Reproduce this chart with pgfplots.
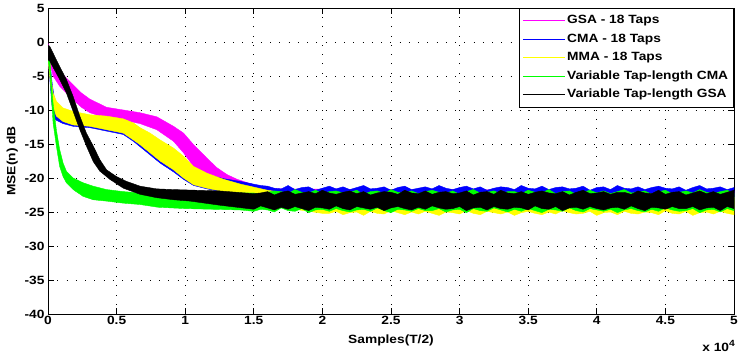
\documentclass[border=0pt]{standalone}
\usepackage{pgfplots}
\pgfplotsset{compat=1.18}
\usepackage{fontspec}
\setmainfont[FakeStretch=1.15]{Liberation Sans}
\definecolor{mmag}{RGB}{255,0,255}
\definecolor{mblue}{RGB}{0,0,255}
\definecolor{myel}{RGB}{255,255,0}
\definecolor{mgreen}{RGB}{0,255,0}
\newcommand\mfont{\fontsize{12}{14}\selectfont\bfseries}
\begin{document}
\begin{tikzpicture}
\useasboundingbox (0,0) rectangle (741bp,356bp);
\begin{axis}[
  at={(48bp,42bp)}, anchor=south west,
  scale only axis, width=686bp, height=306bp,
  clip mode=individual,
  xmin=0, xmax=50000, ymin=-40, ymax=5,
  scaled x ticks=false, scaled y ticks=false,
  xtick={0,5000,...,50000},
  xticklabels={0,0.5,1,1.5,2,2.5,3,3.5,4,4.5,5},
  ytick={-40,-35,...,5},
  yticklabels={-40,-35,-30,-25,-20,-15,-10,-5,0,5},
  tick align=inside, tick pos=both,
  major tick length=6bp,
  tick style={black, line width=0.75bp},
  axis line style={black, line width=0.75bp},
  grid=major,
  major grid style={black, line width=0.75bp, dash pattern=on 0.75bp off 8.5bp},
  ticklabel style={font=\mfont},
  xticklabel style={yshift=1bp},
  xlabel={Samples(T/2)}, ylabel={MSE(n) dB},
  label style={font=\mfont},
  xlabel style={yshift=-3bp},
  ylabel style={yshift=0bp},
  legend style={at={(1,1)}, anchor=north east, draw=black, line width=0.75bp, fill=white,
    font=\mfont, inner xsep=3.5bp, inner ysep=3bp, row sep=0bp,
    nodes={text height=9.5bp, text depth=3bp, inner ysep=3bp}},
  legend cell align=left,
  legend image code/.code={\draw[#1] (0bp,0bp) -- (42bp,0bp);},
]
% GSA - 18 taps (magenta)
\addplot[fill=mmag, draw=mmag, line width=0.4pt, forget plot] coordinates {
(0,-0.2)(200,-1.8)(370,-2.8)(850,-4.3)(1340,-5.3)(1830,-6.3)(2440,-7.5)(3050,-8.4)(4270,-9.6)(5490,-10.0)(6710,-10.4)(7930,-11.0)(9150,-12.4)(9880,-13.4)(10610,-15.1)(11590,-17.1)(12320,-18.5)(13050,-19.5)(13790,-20.2)(15000,-21.0)(16000,-21.6)(50000,-21.9)
(50000,-24.6)(16000,-23.9)(15000,-22.3)(13790,-21.3)(13050,-20.8)(12320,-20.3)(11590,-19.8)(10610,-18.3)(9880,-16.3)(9150,-14.6)(7930,-12.9)(6710,-12.0)(5490,-11.5)(4270,-11.2)(3050,-10.4)(2440,-9.6)(1830,-8.5)(1340,-7.5)(850,-6.5)(370,-5.0)(0,-2.0)
} -- cycle;
% CMA - 18 taps (blue)
\addplot[fill=mblue, draw=mblue, line width=0.4pt, forget plot] coordinates {
(0,-0.5)(150,-3)(300,-6)(500,-8.8)(800,-10.0)(1830,-10.5)(3050,-10.8)(4270,-11.0)(5490,-11.4)(6220,-12.0)(6710,-12.7)(7440,-13.6)(8170,-14.6)(9150,-15.8)(9880,-17.0)(10610,-18.5)(11590,-19.5)(12810,-20.1)(14030,-20.5)(15000,-20.9)(15500,-21.1)
(16000,-21.2)(16500,-21.5)(17000,-21.6)(17500,-21.1)(18000,-21.7)(18500,-21.4)(19000,-21.3)(19500,-21.8)(20000,-21.5)(20500,-21.2)(21000,-21.6)(21500,-21.3)(22000,-21.7)(22500,-21.4)(23000,-21.1)(23500,-21.6)(24000,-21.5)(24500,-21.3)(25000,-21.8)(25500,-21.4)(26000,-21.2)(26500,-21.7)(27000,-21.5)(27500,-21.3)(28000,-21.6)(28500,-21.1)(29000,-21.5)(29500,-21.7)(30000,-21.4)(30500,-21.2)(31000,-21.6)(31500,-21.3)(32000,-21.8)(32500,-21.5)(33000,-21.3)(33500,-21.4)(34000,-21.7)(34500,-21.1)(35000,-21.5)(35500,-21.6)(36000,-21.2)(36500,-21.7)(37000,-21.4)(37500,-21.3)(38000,-21.6)(38500,-21.5)(39000,-21.2)(39500,-21.8)(40000,-21.4)(40500,-21.3)(41000,-21.7)(41500,-21.1)(42000,-21.5)(42500,-21.6)(43000,-21.3)(43500,-21.7)(44000,-21.4)(44500,-21.2)(45000,-21.5)(45500,-21.6)(46000,-21.3)(46500,-21.8)(47000,-21.4)(47500,-21.1)(48000,-21.6)(48500,-21.5)(49000,-21.3)(49500,-21.7)(50000,-21.4)
(50000,-22.9)(16000,-22.7)(14030,-22.5)(12810,-22.1)(11590,-21.6)(10610,-21.1)(9880,-20.2)(9150,-19.1)(8170,-17.8)(7440,-16.6)(6710,-15.4)(6220,-14.6)(5490,-13.6)(4270,-13.1)(3050,-12.6)(1830,-12.4)(1100,-12.0)(500,-11.4)(300,-9.5)(150,-6)(0,-2)
} -- cycle;
% MMA - 18 taps (yellow)
\addplot[fill=myel, draw=myel, line width=0.4pt, forget plot] coordinates {
(0,-1.2)(120,-2.1)(240,-5.5)(370,-7.5)(610,-8.7)(1100,-9.7)(1830,-10.2)(3050,-10.7)(4270,-10.9)(5490,-11.3)(6220,-11.9)(6710,-12.6)(7440,-13.4)(8170,-14.4)(9150,-15.6)(9880,-16.8)(10610,-18.3)(11590,-19.3)(12810,-20.2)(14030,-20.9)(16000,-21.8)(18000,-22.4)(20000,-22.7)(50000,-22.8)
(50000,-25.4)(49500,-25.2)(49000,-24.9)(48500,-25.3)(48000,-25.0)(47500,-25.1)(47000,-25.5)(46500,-24.9)(46000,-25.3)(45500,-25.2)(45000,-24.8)(44500,-25.4)(44000,-25.1)(43500,-25.0)(43000,-25.3)(42500,-25.2)(42000,-24.9)(41500,-25.4)(41000,-25.0)(40500,-25.1)(40000,-25.5)(39500,-24.9)(39000,-25.2)(38500,-25.3)(38000,-25.1)(37500,-24.8)(37000,-25.3)(36500,-25.0)(36000,-25.4)(35500,-25.2)(35000,-24.9)(34500,-25.1)(34000,-25.5)(33500,-25.0)(33000,-25.3)(32500,-25.1)(32000,-24.9)(31500,-25.4)(31000,-25.2)(30500,-24.8)(30000,-25.3)(29500,-25.1)(29000,-25.0)(28500,-25.5)(28000,-25.2)(27500,-24.9)(27000,-25.3)(26500,-25.0)(26000,-25.4)(25500,-25.1)(25000,-24.8)(24500,-25.3)(24000,-25.2)(23500,-24.9)(23000,-25.5)(22500,-25.0)(22000,-25.1)(21500,-25.4)(21000,-24.9)(20500,-25.2)(20000,-25.2)
(18000,-24.6)(16000,-23.6)(14030,-22.6)(12810,-22.0)(11590,-21.5)(10610,-21.0)(9880,-20.0)(9150,-18.8)(8170,-17.5)(7440,-16.3)(6710,-15.1)(6220,-14.4)(5490,-13.4)(4270,-12.9)(3050,-12.4)(1830,-12.2)(1100,-11.7)(610,-10.9)(370,-9.5)(120,-5.0)(0,-2.5)
} -- cycle;
% Variable tap-length CMA (green)
\addplot[fill=mgreen, draw=mgreen, line width=0.4pt, forget plot] coordinates {
(0,-1.0)(70,-1.1)(240,-5.5)(370,-9.0)(610,-12.9)(850,-15.8)(1100,-17.8)(1340,-19.0)(1830,-20.0)(2560,-20.7)(3290,-21.2)(4270,-21.7)(5490,-22.0)(6710,-22.2)(8000,-22.1)(10000,-22.2)(12000,-22.1)(14000,-22.2)
(15000,-22.2)(15500,-22.4)(16000,-22.1)(16500,-21.9)(17000,-22.0)(17500,-22.3)(18000,-21.7)(18500,-22.1)(19000,-22.2)(19500,-21.8)(20000,-22.3)(20500,-22.0)(21000,-21.9)(21500,-22.2)(22000,-22.1)(22500,-21.8)(23000,-22.4)(23500,-22.0)(24000,-21.9)(24500,-22.3)(25000,-21.7)(25500,-22.1)(26000,-22.2)(26500,-21.9)(27000,-22.3)(27500,-22.0)(28000,-21.8)(28500,-22.1)(29000,-22.2)(29500,-21.9)(30000,-22.4)(30500,-22.0)(31000,-21.7)(31500,-22.2)(32000,-22.1)(32500,-21.9)(33000,-22.3)(33500,-22.0)(34000,-22.0)(34500,-22.3)(35000,-21.8)(35500,-22.1)(36000,-22.2)(36500,-21.7)(37000,-22.3)(37500,-22.0)(38000,-21.9)(38500,-22.4)(39000,-22.1)(39500,-21.8)(40000,-22.2)(40500,-21.9)(41000,-22.3)(41500,-22.0)(42000,-21.7)(42500,-22.2)(43000,-22.1)(43500,-21.9)(44000,-22.4)(44500,-22.0)(45000,-21.8)(45500,-22.3)(46000,-22.1)(46500,-21.9)(47000,-22.2)(47500,-21.7)(48000,-22.1)(48500,-22.3)(49000,-22.0)(49500,-21.8)(50000,-22.2)
(50000,-24.8)(49500,-24.5)(49000,-25.0)(48500,-24.6)(48000,-24.7)(47500,-25.1)(47000,-24.5)(46500,-24.8)(46000,-24.9)(45500,-24.7)(45000,-24.4)(44500,-24.9)(44000,-24.6)(43500,-25.0)(43000,-24.8)(42500,-24.5)(42000,-24.7)(41500,-25.1)(41000,-24.6)(40500,-24.9)(40000,-24.7)(39500,-24.5)(39000,-25.0)(38500,-24.8)(38000,-24.4)(37500,-24.9)(37000,-24.7)(36500,-24.6)(36000,-25.1)(35500,-24.8)(35000,-24.5)(34500,-24.9)(34000,-24.6)(33500,-25.0)(33000,-24.7)(32500,-24.4)(32000,-24.9)(31500,-24.8)(31000,-24.5)(30500,-25.1)(30000,-24.6)(29500,-24.7)(29000,-25.0)(28500,-24.5)(28000,-24.8)(27500,-24.8)(27000,-24.5)(26500,-24.9)(26000,-24.7)(25500,-24.6)(25000,-25.1)(24500,-24.8)(24000,-24.4)(23500,-24.9)(23000,-24.6)(22500,-24.7)(22000,-25.0)(21500,-24.8)(21000,-24.5)(20500,-24.9)(20000,-24.6)(19500,-24.7)(19000,-25.1)(18500,-24.5)(18000,-24.9)(17500,-24.8)(17000,-24.4)(16500,-25.0)(16000,-24.7)(15500,-24.6)(15000,-24.9)
(14000,-24.7)(12000,-24.6)(10000,-24.5)(8000,-24.3)(6710,-23.9)(5490,-23.7)(4270,-23.4)(3290,-23.2)(2560,-22.7)(1830,-21.7)(1340,-20.7)(1100,-19.8)(850,-18.3)(610,-15.3)(370,-11.9)(120,-4.1)(0,-2.5)
} -- cycle;
% Variable tap-length GSA (black)
\addplot[fill=black, draw=black, line width=0.4pt, forget plot] coordinates {
(0,-0.5)(120,-0.6)(850,-3.6)(1340,-5.5)(1830,-8.0)(2320,-10.9)(2800,-13.4)(3300,-15.3)(3780,-17.3)(4270,-18.8)(5000,-19.8)(5730,-20.5)(6710,-21.2)(7930,-21.6)(9150,-21.7)(12500,-21.9)
(15000,-22.3)(15500,-22.2)(16000,-22.0)(16500,-22.5)(17000,-22.1)(17500,-21.9)(18000,-22.4)(18500,-22.2)(19000,-22.0)(19500,-22.3)(20000,-21.8)(20500,-22.2)(21000,-22.4)(21500,-22.1)(22000,-21.9)(22500,-22.3)(23000,-22.0)(23500,-22.5)(24000,-22.2)(24500,-22.0)(25000,-22.1)(25500,-22.4)(26000,-21.8)(26500,-22.2)(27000,-22.3)(27500,-21.9)(28000,-22.4)(28500,-22.1)(29000,-22.0)(29500,-22.3)(30000,-22.2)(30500,-21.9)(31000,-22.5)(31500,-22.1)(32000,-22.0)(32500,-22.4)(33000,-21.8)(33500,-22.2)(34000,-22.3)(34500,-22.0)(35000,-22.4)(35500,-22.1)(36000,-21.9)(36500,-22.2)(37000,-22.3)(37500,-22.0)(38000,-22.5)(38500,-22.1)(39000,-21.8)(39500,-22.3)(40000,-22.2)(40500,-22.0)(41000,-22.4)(41500,-22.1)(42000,-22.1)(42500,-22.4)(43000,-21.9)(43500,-22.2)(44000,-22.3)(44500,-21.8)(45000,-22.4)(45500,-22.1)(46000,-22.0)(46500,-22.5)(47000,-22.2)(47500,-21.9)(48000,-22.3)(48500,-22.0)(49000,-22.4)(49500,-22.1)(50000,-21.8)
(50000,-24.5)(49500,-24.2)(49000,-24.8)(48500,-24.3)(48000,-24.4)(47500,-24.7)(47000,-24.2)(46500,-24.5)(46000,-24.5)(45500,-24.2)(45000,-24.6)(44500,-24.4)(44000,-24.3)(43500,-24.8)(43000,-24.5)(42500,-24.1)(42000,-24.6)(41500,-24.3)(41000,-24.4)(40500,-24.7)(40000,-24.5)(39500,-24.2)(39000,-24.6)(38500,-24.3)(38000,-24.4)(37500,-24.8)(37000,-24.2)(36500,-24.6)(36000,-24.5)(35500,-24.1)(35000,-24.7)(34500,-24.4)(34000,-24.3)(33500,-24.6)(33000,-24.5)(32500,-24.2)(32000,-24.7)(31500,-24.3)(31000,-24.4)(30500,-24.8)(30000,-24.2)(29500,-24.5)(29000,-24.6)(28500,-24.4)(28000,-24.1)(27500,-24.6)(27000,-24.3)(26500,-24.7)(26000,-24.5)(25500,-24.2)(25000,-24.4)(24500,-24.8)(24000,-24.3)(23500,-24.6)(23000,-24.4)(22500,-24.2)(22000,-24.7)(21500,-24.5)(21000,-24.1)(20500,-24.6)(20000,-24.4)(19500,-24.3)(19000,-24.8)(18500,-24.5)(18000,-24.2)(17500,-24.6)(17000,-24.3)(16500,-24.7)(16000,-24.4)(15500,-24.1)(15000,-24.6)
(12500,-24.0)(10370,-23.4)(9150,-23.2)(7930,-22.9)(6710,-22.4)(5490,-21.5)(4510,-20.2)(3780,-19.0)(3300,-17.6)(2800,-15.3)(2320,-12.9)(1830,-10.2)(1340,-7.5)(850,-5.5)(120,-2.8)(0,-2.6)
} -- cycle;
\addlegendimage{mmag, line width=0.75bp}
\addlegendentry{GSA - 18 Taps}
\addlegendimage{mblue, line width=0.75bp}
\addlegendentry{CMA - 18 Taps}
\addlegendimage{myel, line width=0.75bp}
\addlegendentry{MMA - 18 Taps}
\addlegendimage{mgreen, line width=0.75bp}
\addlegendentry{Variable Tap-length CMA}
\addlegendimage{black, line width=0.75bp}
\addlegendentry{Variable Tap-length GSA}
\node[font=\mfont, anchor=north east, inner sep=0pt] at (rel axis cs:1,0) [yshift=-26bp, xshift=1bp] {x 10\raisebox{5bp}{\fontsize{9}{10}\selectfont 4}};
\end{axis}
\end{tikzpicture}
\end{document}
